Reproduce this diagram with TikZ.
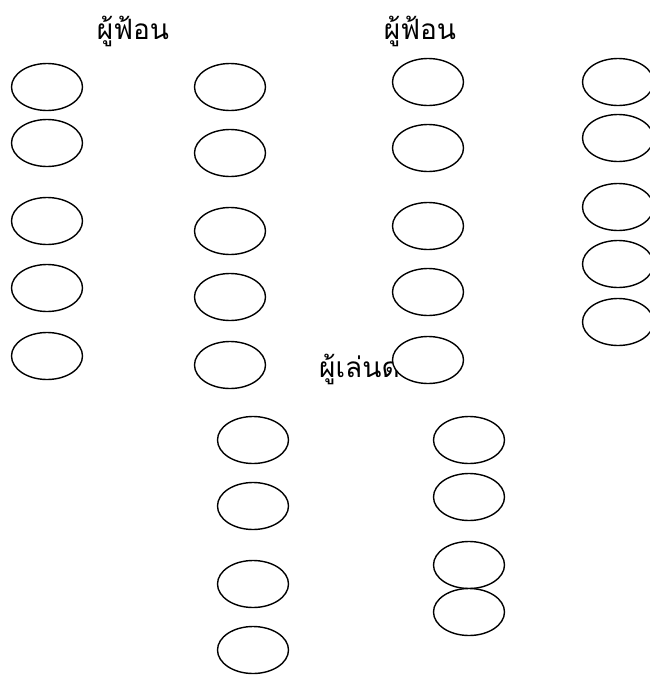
\documentclass[tikz,border=0pt]{standalone}
\usepackage{fontspec}
\newfontfamily\thaifont[Script=Thai]{Loma}
\usetikzlibrary{shapes.geometric}
\tikzset{
  seat/.style={ellipse,draw,line width=1.4pt,fill=white,minimum width=71pt,minimum height=47pt,inner sep=0pt},
  role/.style={font=\thaifont\fontsize{28}{32}\selectfont,inner sep=0pt}
}

\begin{document}
\begin{tikzpicture}[x=1pt,y=-1pt]
  \useasboundingbox (0,0) rectangle (650,675);
  % labels first, the seats cover them
  \node[role] (dancersA) at (133,31) {ผู้ฟ้อน};
  \node[role] (dancersB) at (420,31) {ผู้ฟ้อน};
  \node[role,anchor=west] (musicians) at (319,369) {ผู้เล่นดนตรี};
  % dancers, left group
  \foreach \y [count=\i] in {87,143,221,288,356}{\node[seat] (a\i) at (47,\y) {};}
  \foreach \y [count=\i] in {87,153,231,297,365}{\node[seat] (b\i) at (230,\y) {};}
  % dancers, right group
  \foreach \y [count=\i] in {82,148,226,292,360}{\node[seat] (c\i) at (428,\y) {};}
  \foreach \y [count=\i] in {82,138,207,264,322}{\node[seat] (d\i) at (618,\y) {};}
  % musicians
  \foreach \y [count=\i] in {440,506,584,650}{\node[seat] (e\i) at (253,\y) {};}
  \foreach \y [count=\i] in {440,497,565,612}{\node[seat] (f\i) at (469,\y) {};}
\end{tikzpicture}
\end{document}
